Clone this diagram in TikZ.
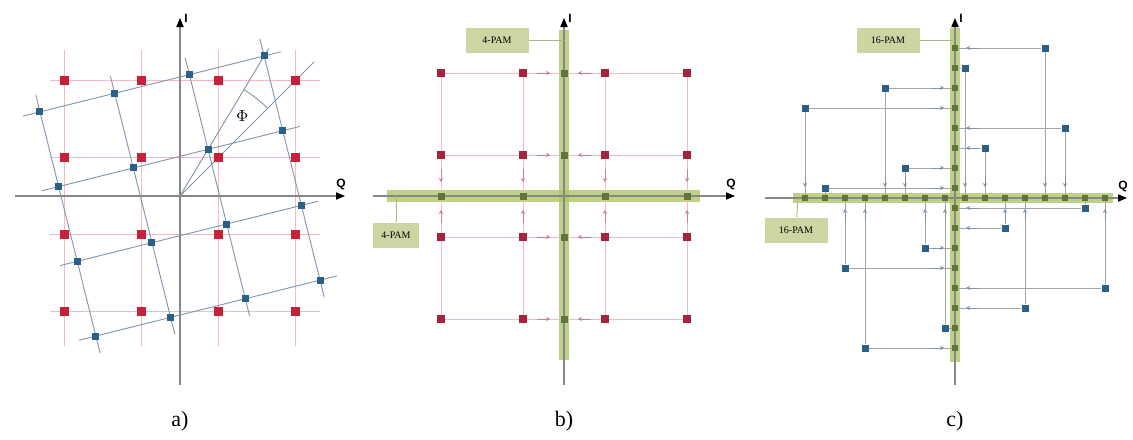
\documentclass[tikz,border=0pt]{standalone}
\usepackage{fontspec}
\setmainfont{Liberation Serif}
\setsansfont{Liberation Sans}
\usepackage{tikz}
\usetikzlibrary{calc,positioning,arrows.meta}

\definecolor{ptred}{RGB}{200,32,58}
\definecolor{ptdred}{RGB}{165,35,60}
\definecolor{lnred}{RGB}{247,185,194}
\definecolor{ptblue}{RGB}{42,96,135}
\definecolor{lnblue}{RGB}{128,148,170}
\definecolor{axgray}{RGB}{135,135,135}
\definecolor{lngray}{RGB}{165,165,165}
\definecolor{bandgreen}{RGB}{175,198,105}
\definecolor{ptgreen}{RGB}{95,118,55}
\definecolor{boxfill}{RGB}{203,214,163}
\definecolor{boxlinecol}{RGB}{170,182,140}
\definecolor{arrpink}{RGB}{205,125,145}

\begin{document}
\begin{tikzpicture}[x=0.5pt, y=-0.5pt,
	iqaxis/.style={draw=axgray, line width=0.55pt, -{Triangle[length=4.5pt,width=3.6pt,color=black]}},
	axlbl/.style={font=\sffamily\bfseries\fontsize{6}{7}\selectfont, inner sep=1pt},
	redln/.style={draw=lnred, line width=0.45pt},
	blueln/.style={draw=lnblue, line width=0.45pt},
	prjln/.style={draw=lngray, line width=0.4pt},
	greenband/.style={fill=bandgreen, opacity=0.8},
	redpt/.style={fill=ptred, minimum size=4.5pt, inner sep=0pt},
	bluept/.style={fill=ptblue, minimum size=3.5pt, inner sep=0pt},
	greenpt/.style={fill=ptgreen, minimum size=3pt, inner sep=0pt},
	tinyarr/.style={draw=arrpink, line width=0.4pt, -{Stealth[length=2pt,width=2.2pt]}},
	pambox/.style={fill=boxfill, font=\fontsize{5}{6}\selectfont, minimum width=31.5pt, minimum height=12.5pt, inner sep=1pt},
	boxln/.style={draw=boxlinecol, line width=0.45pt},
	panellbl/.style={font=\fontsize{11}{13}\selectfont, inner sep=0pt}
	]
	\useasboundingbox (0,0) rectangle (1133,439);

	% a)
	\begin{scope}[shift={(180,196)}]
		\foreach \v in {-115.5,-38.5,38.5,115.5} {
			\draw[redln] (-130,\v) -- (140,\v);
			\draw[redln] (\v,-146) -- (\v,150);
		}
		\begin{scope}[rotate=14]
			\foreach \v in {-115.5,-38.5,38.5,115.5} {
				\draw[blueln] (-133,\v) -- (133,\v);
				\draw[blueln] (\v,-133) -- (\v,133);
			}
		\end{scope}
		\coordinate (oa) at (0,0);
		\coordinate (ia) at (0,-178);
		\coordinate (qa) at (165,0);
		\draw[iqaxis] (0,189) -- (ia);
		\draw[iqaxis] (-165,0) -- (qa);
		\node[axlbl, right=1pt of ia] (lia) {I};
		\node[axlbl, above=2pt of qa, xshift=-2pt] (lqa) {Q};
		\draw[blueln] (oa) -- (-45:190);
		\draw[blueln] (oa) -- (-59:172);
		\draw[blueln] (-45:124) arc[start angle=-45, end angle=-59, radius=124];
		\node (phi) at (-52:101) {\fontsize{8}{9}\selectfont$\Phi$};
		\foreach \u [count=\i] in {-115.5,-38.5,38.5,115.5}
			\foreach \v [count=\j] in {-115.5,-38.5,38.5,115.5}
				\node[redpt] (ra-\i-\j) at (\u,\v) {};
		\begin{scope}[rotate=14]
			\foreach \u [count=\i] in {-115.5,-38.5,38.5,115.5}
				\foreach \v [count=\j] in {-115.5,-38.5,38.5,115.5}
					\node[bluept] (ba-\i-\j) at (\u,\v) {};
		\end{scope}
	\end{scope}

	% b)
	\begin{scope}[shift={(564,196)}]
		\fill[greenband] (-5,-166) rectangle (5,164);
		\fill[greenband] (-177,-6) rectangle (136,6);
		\coordinate (ib) at (0,-178);
		\coordinate (qb) at (171,0);
		\draw[iqaxis] (0,189) -- (ib);
		\draw[iqaxis] (-191,0) -- (qb);
		\node[axlbl, right=1pt of ib] (lib) {I};
		\node[axlbl, above=2pt of qb, xshift=-2pt] (lqb) {Q};
		\foreach \v in {-123,-41,41,123} {
			\draw[redln] (-123,\v) -- (123,\v);
			\draw[redln] (\v,-123) -- (\v,123);
			\draw[tinyarr] (-27,\v) -- (-14,\v);
			\draw[tinyarr] (27,\v) -- (14,\v);
			\draw[tinyarr] (\v,-27) -- (\v,-14);
			\draw[tinyarr] (\v,27) -- (\v,14);
		}
		\foreach \v [count=\i] in {-123,-41,41,123} {
			\node[greenpt, minimum size=3.5pt] (gbi-\i) at (0,\v) {};
			\node[greenpt, minimum size=3.5pt] (gbq-\i) at (\v,0) {};
		}
		\foreach \u [count=\i] in {-123,-41,41,123}
			\foreach \v [count=\j] in {-123,-41,41,123}
				\node[redpt, fill=ptdred, minimum size=4pt] (rb-\i-\j) at (\u,\v) {};
		\node[pambox] (pb1) at (-67,-156) {4-PAM};
		\coordinate (tb1) at (0,-156);
		\draw[boxln] (pb1) -- (tb1);
		\node[pambox, minimum width=23pt] (pb2) at (-168,39) {4-PAM};
		\coordinate (tb2) at (-168,0);
		\draw[boxln] (pb2) -- (tb2);
	\end{scope}

	% c)
	\begin{scope}[shift={(955,198)}]
		\fill[greenband] (-5,-170) rectangle (5,164);
		\fill[greenband] (-162,-5) rectangle (158,5);
		\coordinate (ic) at (0,-180);
		\coordinate (qc) at (172,0);
		\draw[iqaxis] (0,187) -- (ic);
		\draw[iqaxis] (-190,0) -- (qc);
		\node[axlbl, right=1pt of ic] (lic) {I};
		\node[axlbl, above=2pt of qc, xshift=-2pt] (lqc) {Q};
		\foreach \p/\q [count=\i] in {9/15,1/13,-7/11,-15/9,11/7,3/5,-5/3,-13/1,13/-1,5/-3,-3/-5,-11/-7,15/-9,7/-11,-1/-13,-9/-15} {
			\pgfmathsetmacro{\xx}{10*\p}
			\pgfmathsetmacro{\yy}{-10*\q}
			\pgfmathsetmacro{\sx}{sign(\p)}
			\pgfmathsetmacro{\sy}{-sign(\q)}
			\pgfmathtruncatemacro{\ax}{abs(\p)}
			\pgfmathtruncatemacro{\ay}{abs(\q)}
			\node[greenpt, minimum size=2.6pt] (gci-\i) at (0,\yy) {};
			\node[greenpt, minimum size=2.6pt] (gcq-\i) at (\xx,0) {};
			\node[bluept] (bc-\i) at (\xx,\yy) {};
			\draw[prjln] (bc-\i) -- (gci-\i);
			\draw[prjln] (bc-\i) -- (gcq-\i);
			\ifnum\ax>1 \draw[tinyarr, draw=lnblue] (\sx*23,\yy) -- (\sx*11,\yy); \fi
			\ifnum\ay>1 \draw[tinyarr, draw=lnblue] (\xx,\sy*23) -- (\xx,\sy*11); \fi
		}
		\node[pambox] (pc1) at (-67,-158) {16-PAM};
		\coordinate (tc1) at (0,-158);
		\draw[boxln] (pc1) -- (tc1);
		\node[pambox] (pc2) at (-159,32) {16-PAM};
		\coordinate (tc2) at (-157,0);
		\draw[boxln] (pc2) -- (tc2);
	\end{scope}

	\node[panellbl] (la) at (180,421) {a)};
	\node[panellbl] (lb) at (564,421) {b)};
	\node[panellbl] (lc) at (955,421) {c)};
\end{tikzpicture}
\end{document}
